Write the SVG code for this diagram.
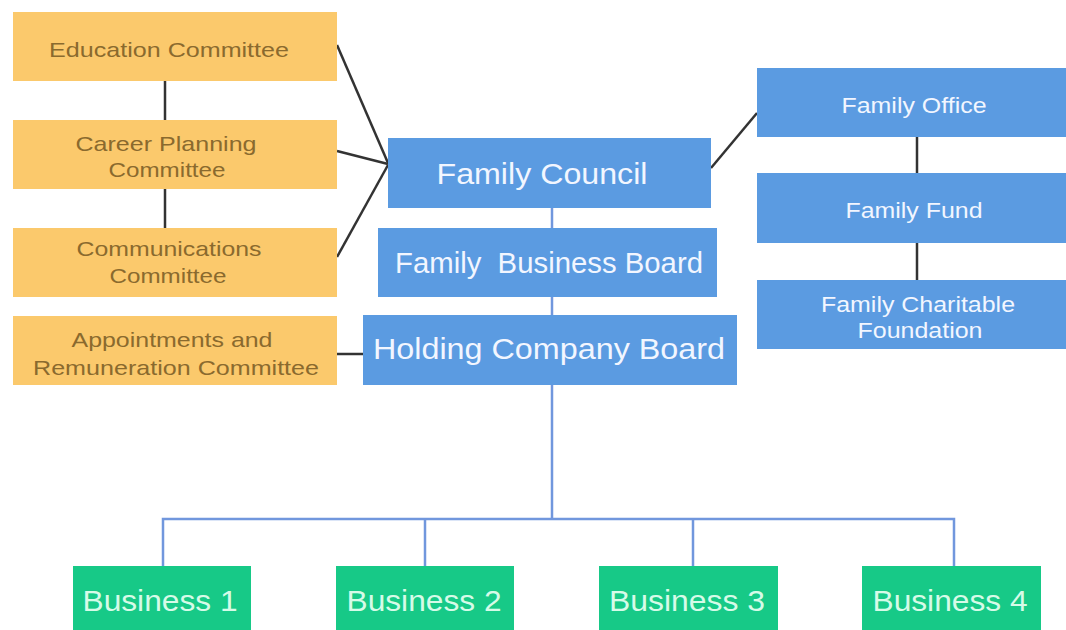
<svg xmlns="http://www.w3.org/2000/svg" width="1066" height="630" viewBox="0 0 1066 630">
<style>
.o{fill:#fbc96c}
.b{fill:#5b9be1}
.g{fill:#17c987}
text{font-family:"Liberation Sans",Arial,sans-serif;text-anchor:middle}
.to{fill:#8a6a2e;font-size:21px}
.tb{fill:#f2f6ff}
.tg{fill:#d6fbe8;font-size:30px}
.dk{stroke:#333;stroke-width:2.5;fill:none}
.bl{stroke:#7197dd;stroke-width:2.5;fill:none}
</style>
<rect width="1066" height="630" fill="#fff"/>
<g id="connectors">
<line class="dk" x1="165" y1="81" x2="165" y2="120"/>
<line class="dk" x1="165" y1="189" x2="165" y2="228"/>
<line class="dk" x1="337" y1="45" x2="388" y2="163"/>
<line class="dk" x1="337" y1="151" x2="388" y2="164"/>
<line class="dk" x1="337" y1="257" x2="388" y2="165"/>
<line class="dk" x1="337" y1="354" x2="363" y2="354"/>
<line class="dk" x1="711" y1="168" x2="757" y2="113"/>
<line class="dk" x1="917" y1="137" x2="917" y2="173"/>
<line class="dk" x1="917" y1="243" x2="917" y2="280"/>
<line class="bl" x1="552" y1="208" x2="552" y2="228"/>
<line class="bl" x1="552" y1="297" x2="552" y2="315"/>
<line class="bl" x1="552" y1="385" x2="552" y2="519"/>
<polyline class="bl" points="163,566 163,519 954,519 954,566"/>
<line class="bl" x1="425" y1="519" x2="425" y2="566"/>
<line class="bl" x1="693" y1="519" x2="693" y2="566"/>
</g>
<g id="education"><rect class="o" x="13" y="12" width="324" height="69"/><text class="to" x="169" y="57" textLength="240" lengthAdjust="spacingAndGlyphs">Education Committee</text></g>
<g id="career"><rect class="o" x="13" y="120" width="324" height="69"/><text class="to" x="166" y="151" textLength="181" lengthAdjust="spacingAndGlyphs">Career Planning</text><text class="to" x="167" y="177" textLength="117" lengthAdjust="spacingAndGlyphs">Committee</text></g>
<g id="communications"><rect class="o" x="13" y="228" width="324" height="69"/><text class="to" x="169" y="256" textLength="185" lengthAdjust="spacingAndGlyphs">Communications</text><text class="to" x="168" y="283" textLength="117" lengthAdjust="spacingAndGlyphs">Committee</text></g>
<g id="appointments"><rect class="o" x="13" y="316" width="324" height="69"/><text class="to" x="172" y="347" textLength="201" lengthAdjust="spacingAndGlyphs">Appointments and</text><text class="to" x="176" y="375" textLength="286" lengthAdjust="spacingAndGlyphs">Remuneration Committee</text></g>
<g id="family-council"><rect class="b" x="388" y="138" width="323" height="70"/><text class="tb" x="542" y="184" font-size="29" textLength="211" lengthAdjust="spacingAndGlyphs">Family Council</text></g>
<g id="family-business-board"><rect class="b" x="378" y="228" width="339" height="69"/><text class="tb" x="549" y="273" font-size="29" textLength="308" lengthAdjust="spacingAndGlyphs" xml:space="preserve">Family  Business Board</text></g>
<g id="holding-company-board"><rect class="b" x="363" y="315" width="374" height="70"/><text class="tb" x="549" y="359" font-size="30" textLength="352" lengthAdjust="spacingAndGlyphs">Holding Company Board</text></g>
<g id="family-office"><rect class="b" x="757" y="68" width="309" height="69"/><text class="tb" x="914" y="113" font-size="22" textLength="145" lengthAdjust="spacingAndGlyphs">Family Office</text></g>
<g id="family-fund"><rect class="b" x="757" y="173" width="309" height="70"/><text class="tb" x="914" y="218" font-size="22" textLength="137" lengthAdjust="spacingAndGlyphs">Family Fund</text></g>
<g id="family-charitable-foundation"><rect class="b" x="757" y="280" width="309" height="69"/><text class="tb" x="918" y="312" font-size="22" textLength="194" lengthAdjust="spacingAndGlyphs">Family Charitable</text><text class="tb" x="920" y="338" font-size="22" textLength="125" lengthAdjust="spacingAndGlyphs">Foundation</text></g>
<g id="business-1"><rect class="g" x="73" y="566" width="178" height="64"/><text class="tg" x="160" y="611" textLength="155" lengthAdjust="spacingAndGlyphs">Business 1</text></g>
<g id="business-2"><rect class="g" x="336" y="566" width="178" height="64"/><text class="tg" x="424" y="611" textLength="155" lengthAdjust="spacingAndGlyphs">Business 2</text></g>
<g id="business-3"><rect class="g" x="599" y="566" width="179" height="64"/><text class="tg" x="687" y="611" textLength="156" lengthAdjust="spacingAndGlyphs">Business 3</text></g>
<g id="business-4"><rect class="g" x="862" y="566" width="179" height="64"/><text class="tg" x="950" y="611" textLength="155" lengthAdjust="spacingAndGlyphs">Business 4</text></g>
</svg>
